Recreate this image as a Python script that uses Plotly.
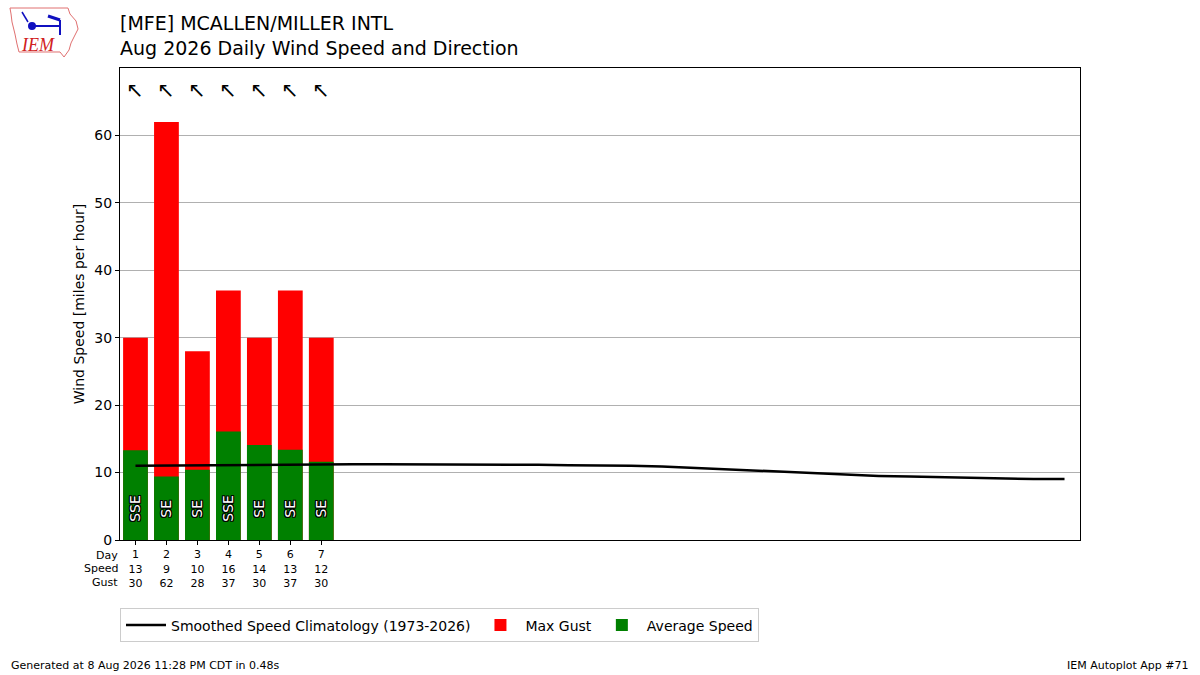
import plotly.graph_objects as go

# ---- data ----
days = [1, 2, 3, 4, 5, 6, 7]
avg_speed = [13.3, 9.4, 10.4, 16.1, 14.1, 13.4, 11.6]
max_gust = [30, 62, 28, 37, 30, 37, 30]
directions = ["SSE", "SE", "SE", "SSE", "SE", "SE", "SE"]
arrow_glyphs = ["↖", "↖", "↖", "↖", "↖", "↖", "↖"]
clim_days = list(range(1, 32))
clim_speed = [11.0, 11.05, 11.1, 11.1, 11.15, 11.2, 11.25, 11.25, 11.25, 11.25,
              11.2, 11.2, 11.2, 11.15, 11.1, 11.1, 11.0, 10.9, 10.7, 10.5,
              10.3, 10.1, 9.85, 9.65, 9.5, 9.4, 9.3, 9.2, 9.1, 9.05, 9.05]
row_headers = ["Day", "Speed", "Gust"]

FONT = "DejaVu Sans"
L, T, PW, PH = 120, 68, 960, 472


def px(x, y):
    """pixel position -> paper coords (for decorative logo)"""
    return (x - L) / PW, (T + PH - y) / PH


fig = go.Figure()
fig.add_trace(go.Scatter(
    x=clim_days, y=clim_speed, mode="lines",
    line=dict(color="black", width=2.5),
    name="Smoothed Speed Climatology (1973-2026)"))
fig.add_trace(go.Bar(
    x=days, y=max_gust, width=0.8, marker=dict(color="red", line_width=0),
    name="Max Gust"))
fig.add_trace(go.Bar(
    x=days, y=avg_speed, width=0.8, marker=dict(color="green", line_width=0),
    name="Average Speed"))

ticktext = [f"{d}<br>{round(s)}<br>{g}" for d, s, g in zip(days, avg_speed, max_gust)]

fig.update_layout(
    width=1200, height=675,
    margin=dict(l=L, r=1200 - L - PW, t=T, b=675 - T - PH),
    paper_bgcolor="white", plot_bgcolor="white",
    barmode="overlay",
    font=dict(family=FONT, color="black", size=14),
    showlegend=True,
    legend=dict(orientation="h", x=0.0, y=-0.145, xanchor="left", yanchor="top",
                bordercolor="#cccccc", borderwidth=1, font=dict(size=14),
                traceorder="normal", itemwidth=40),
    xaxis=dict(range=[0.5, 31.5], tickmode="array", tickvals=days, ticktext=ticktext,
               tickfont=dict(size=11), ticks="outside", ticklen=4, tickcolor="black",
               showline=True, linecolor="black", linewidth=1, mirror=True,
               showgrid=False, zeroline=False),
    yaxis=dict(range=[0, 70], tickvals=[0, 10, 20, 30, 40, 50, 60],
               ticks="outside", ticklen=4, tickcolor="black",
               showline=True, linecolor="black", linewidth=1, mirror=True,
               showgrid=True, gridcolor="#b0b0b0", gridwidth=1, zeroline=False,
               title=dict(text="Wind Speed [miles per hour]", font=dict(size=14), standoff=6),
               tickfont=dict(size=14)),
)

# title
fig.add_annotation(xref="paper", yref="paper", x=0, y=1, xanchor="left", yanchor="bottom",
                   xshift=-2, yshift=7, align="left", showarrow=False,
                   text="[MFE] MCALLEN/MILLER INTL<br>Aug 2026 Daily Wind Speed and Direction",
                   font=dict(size=19, family=FONT))

# row headers for the table-like tick labels
for i, h in enumerate(row_headers):
    fig.add_annotation(xref="paper", yref="paper", x=0, y=0, xanchor="right", yanchor="middle",
                       xshift=0, yshift=-15 - 13.5 * i, showarrow=False, text=h,
                       font=dict(size=11, family=FONT))

# direction arrows and labels
outline = ("-1px -1px 0 #000, 1px -1px 0 #000, -1px 1px 0 #000, 1px 1px 0 #000, "
           "0 1px 0 #000, 0 -1px 0 #000, 1px 0 0 #000, -1px 0 0 #000")
for d, g, lab in zip(days, arrow_glyphs, directions):
    fig.add_annotation(x=d, y=66.7, text=g, showarrow=False,
                       font=dict(size=21, family=FONT, color="black"))
    fig.add_annotation(x=d, y=4.7, text=lab, showarrow=False, textangle=-90,
                       font=dict(size=14, family=FONT, color="white", shadow=outline))

# footer
fx, fy = px(12, 665)
fig.add_annotation(xref="paper", yref="paper", x=fx, y=fy, xanchor="left", yanchor="middle",
                   xshift=-3, showarrow=False, text="Generated at 8 Aug 2026 11:28 PM CDT in 0.48s",
                   font=dict(size=11, family=FONT))
fx2, _ = px(1188, 665)
fig.add_annotation(xref="paper", yref="paper", x=fx2, y=fy, xanchor="right", yanchor="middle",
                   xshift=3, showarrow=False, text="IEM Autoplot App #71",
                   font=dict(size=11, family=FONT))

# simple logo approximation (Iowa outline + IEM)
iowa = [(10, 8), (68, 8), (70, 14), (76, 21), (78, 29), (74, 37), (71, 43), (69, 50),
        (64, 57), (60, 52), (19, 52), (17, 44), (15, 34), (12, 22), (11, 14)]
pts = [px(a, b) for a, b in iowa]
path = "M " + " L ".join(f"{a:.4f} {b:.4f}" for a, b in pts) + " Z"
fig.add_shape(type="path", xref="paper", yref="paper", path=path,
              line=dict(color="#e07070", width=1), fillcolor="white")
ix, iy = px(19, 45)
fig.add_annotation(xref="paper", yref="paper", x=ix, y=iy, xanchor="left", yanchor="middle",
                   showarrow=False, text="<i>IEM</i>",
                   font=dict(size=18, family="Liberation Serif", color="#d02020"))
x0, y0 = px(32, 26)
x1, y1 = px(60, 26)
fig.add_shape(type="line", xref="paper", yref="paper", x0=x0, y0=y0, x1=x1, y1=y1,
              line=dict(color="#1010c0", width=2))
cx0, cy0 = px(29, 23)
cx1, cy1 = px(35, 29)
fig.add_shape(type="circle", xref="paper", yref="paper", x0=cx0, y0=cy0, x1=cx1, y1=cy1,
              line=dict(color="#1010c0"), fillcolor="#1010c0")
ax0, ay0 = px(48, 16)
ax1, ay1 = px(60, 20)
fig.add_shape(type="line", xref="paper", yref="paper", x0=ax0, y0=ay0, x1=ax1, y1=ay1,
              line=dict(color="#1010c0", width=3))
vx0, vy0 = px(60, 20)
vx1, vy1 = px(60, 35)
fig.add_shape(type="line", xref="paper", yref="paper", x0=vx0, y0=vy0, x1=vx1, y1=vy1,
              line=dict(color="#1010c0", width=2))
sx0, sy0 = px(22, 12)
sx1, sy1 = px(28, 22)
fig.add_shape(type="line", xref="paper", yref="paper", x0=sx0, y0=sy0, x1=sx1, y1=sy1,
              line=dict(color="#1010c0", width=1.5))

fig.write_html("out.html", config={"displayModeBar": False},
               post_script="document.body.style.margin='0';")
